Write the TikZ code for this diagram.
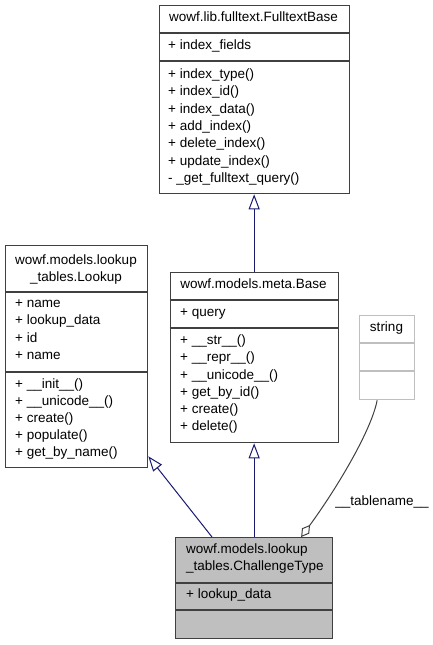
\documentclass[tikz,border=0pt]{standalone}
\usepackage{fontspec}
\setmainfont{Liberation Sans}
\usetikzlibrary{arrows.meta,calc}
\definecolor{edgeblue}{HTML}{191970}
\definecolor{boxline}{HTML}{404040}
\definecolor{ctfill}{HTML}{BFBFBF}
\definecolor{strline}{HTML}{BFBFBF}
\definecolor{aggline}{HTML}{404040}
\begin{document}
\begin{tikzpicture}[x=1pt,y=-1pt,
  cls/.style={draw=boxline, line width=1.3pt, rectangle, inner sep=0pt, anchor=north west},
  sepline/.style={draw=boxline, line width=1.3pt},
  txt/.style={inner sep=0pt, font=\fontsize{13.5}{16}\selectfont, text=black, anchor=mid west},
  ctxt/.style={txt, anchor=mid},
  inh/.style={draw=edgeblue, line width=1pt, -{Triangle[length=15pt, width=11pt, fill=white, line width=1pt]}},
  agg/.style={draw=aggline, line width=1pt, -{Diamond[length=15pt, width=9pt, fill=white, line width=1pt]}}
]
\useasboundingbox (0,0) rectangle (432,645);

% ---- boxes ----
\node[cls, minimum width=190pt, minimum height=188pt] (fb) at (158.5,5) {};
\node[cls, minimum width=142pt, minimum height=222pt] (lk) at (5,245) {};
\node[cls, minimum width=168pt, minimum height=170pt] (base) at (169.5,272) {};
\node[cls, draw=strline, minimum width=55pt, minimum height=84pt] (str) at (359,315) {};
\node[cls, fill=ctfill, minimum width=157pt, minimum height=101pt] (ct) at (175,537) {};

% ---- connectors ----
\draw[inh] (base.north) -- (fb.south);
\draw[inh] (ct.north) -- (base.south);
\coordinate (ctl) at ($(ct.north west)+(37,0)$);
\coordinate (lkr) at ($(lk.south east)+(0,-12)$);
\draw[inh] (ctl) -- (lkr);
\coordinate (strb) at ($(str.south)+(-10,0)$);
\coordinate (ctr) at ($(ct.north)+(47,0)$);
\draw[agg] (strb) .. controls ($(strb)+(-6,31)$) and ($(ctr)+(34.5,-47)$) .. (ctr);
\node[ctxt] (tn) at (382,503) {\_\_tablename\_\_};

% redraw border of ChallengeType on top
\node[cls, minimum width=157pt, minimum height=101pt] at (175,537) {};

% ---- separators ----
\draw[sepline] ($(fb.north west)+(0,28)$) -- ($(fb.north east)+(0,28)$);
\draw[sepline] ($(fb.north west)+(0,56)$) -- ($(fb.north east)+(0,56)$);
\draw[sepline] ($(lk.north west)+(0,47)$) -- ($(lk.north east)+(0,47)$);
\draw[sepline] ($(lk.north west)+(0,127)$) -- ($(lk.north east)+(0,127)$);
\draw[sepline] ($(base.north west)+(0,28)$) -- ($(base.north east)+(0,28)$);
\draw[sepline] ($(base.north west)+(0,56)$) -- ($(base.north east)+(0,56)$);
\draw[draw=strline, line width=1.3pt] ($(str.north west)+(0,28)$) -- ($(str.north east)+(0,28)$);
\draw[draw=strline, line width=1.3pt] ($(str.north west)+(0,56)$) -- ($(str.north east)+(0,56)$);
\draw[sepline] ($(ct.north west)+(0,46)$) -- ($(ct.north east)+(0,46)$);
\draw[sepline] ($(ct.north west)+(0,73)$) -- ($(ct.north east)+(0,73)$);

% ---- FulltextBase ----
\node[ctxt] (fbt) at (253.5,19) {wowf.lib.fulltext.FulltextBase};
\node[txt] (fbf) at (168,47) {+ index\_fields};
\foreach \t [count=\i] in {+ index\_type(), + index\_id(), + index\_data(), + add\_index(), + delete\_index(), + update\_index(), - \_get\_fulltext\_query()}
  \node[txt] (fbm\i) at (168,{75.7+17.4*(\i-1)}) {\t};

% ---- Lookup ----
\node[ctxt] (lkt1) at (76,262) {wowf.models.lookup};
\node[ctxt] (lkt2) at (76,279) {\_tables.Lookup};
\foreach \t [count=\i] in {+ name, + lookup\_data, + id, + name}
  \node[txt] (lkf\i) at (15,{305+17.3*(\i-1)}) {\t};
\foreach \t [count=\i] in {+ \_\_init\_\_(), + \_\_unicode\_\_(), + create(), + populate(), + get\_by\_name()}
  \node[txt] (lkm\i) at (15,{386+17*(\i-1)}) {\t};

% ---- Base ----
\node[ctxt] (bt) at (253.5,286) {wowf.models.meta.Base};
\node[txt] (bf) at (180,314) {+ query};
\foreach \t [count=\i] in {+ \_\_str\_\_(), + \_\_repr\_\_(), + \_\_unicode\_\_(), + get\_by\_id(), + create(), + delete()}
  \node[txt] (bm\i) at (180,{342+17.2*(\i-1)}) {\t};

% ---- string ----
\node[ctxt] (strt) at (386.5,329) {string};

% ---- ChallengeType ----
\node[txt] (ctt1) at (186,551) {wowf.models.lookup};
\node[txt] (ctt2) at (186,568) {\_tables.ChallengeType};
\node[txt] (ctf) at (186,596) {+ lookup\_data};
\end{tikzpicture}
\end{document}
